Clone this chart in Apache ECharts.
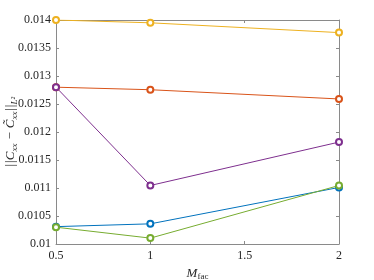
<!DOCTYPE html>
<html><head><meta charset="utf-8">
<script src="https://cdn.jsdelivr.net/npm/echarts@6/dist/echarts.min.js"></script>
<style>html,body{margin:0;padding:0;background:#fff}#c{width:374px;height:280px}</style>
</head><body><div id="c"></div>
<script>
const xValues = [0.5, 1, 2];
const yellowVals = [0.01400, 0.01395, 0.013775];
const orangeVals = [0.01280, 0.012755, 0.01259];
const purpleVals = [0.01280, 0.011045, 0.01182];
const blueVals = [0.01031, 0.01036, 0.01101];
const greenVals = [0.01030, 0.010105, 0.011045];
const yTicks = ['0.01','0.0105','0.011','0.0115','0.012','0.0125','0.013','0.0135','0.014'];
const xTicks = ['0.5','1','1.5','2'];

const font = 'Liberation Serif';
const axisCol = '#8a8a8a';
function mk(name, vals, color){
  return {name, type:'line', data: xValues.map((x,i)=>[x, vals[i]]),
    symbol:'emptyCircle', symbolSize:6, lineStyle:{width:1, color}, itemStyle:{color, borderWidth:0.9},
    animation:false};
}
const chart = echarts.init(document.getElementById('c'));
chart.setOption({
  animation:false,
  grid:{left:56, right:35, top:20, bottom:36, containLabel:false, outerBoundsMode:'none'},
  graphic:[{type:'text', x:11, y:132, rotation:Math.PI/2,
    style:{text:'{t|||C}{s|xx}{t| − C̃}{s|xx}{t|||}{s|L²}', align:'center', verticalAlign:'middle',
      rich:{t:{fontFamily:font, fontStyle:'italic', fontSize:13, fill:'#262626', verticalAlign:'middle'},
        s:{fontFamily:font, fontStyle:'italic', fontSize:9, fill:'#262626', padding:[8,0,0,0]}}}}],
  xAxis:[{type:'value', min:0.5, max:2, interval:0.5,
    axisLine:{lineStyle:{color:axisCol}}, axisTick:{inside:true, length:3, lineStyle:{color:axisCol}},
    splitLine:{show:false},
    axisLabel:{color:'#262626', fontFamily:font, fontSize:12, margin:6,
      formatter:v=>{const s=String(v); return xTicks.includes(s)?s:'';}},
    name:'{i|M}{s|fac}', nameLocation:'middle', nameGap:22,
    nameTextStyle:{rich:{i:{fontFamily:font, fontStyle:'italic', fontSize:13, color:'#262626'},
      s:{fontFamily:font, fontSize:9, color:'#262626', padding:[6,0,0,0]}}}},
   {type:'value', position:'top', min:0.5, max:2, interval:0.5,
    axisLine:{lineStyle:{color:axisCol}}, axisTick:{inside:true, length:3, lineStyle:{color:axisCol}},
    axisLabel:{show:false}, splitLine:{show:false}}],
  yAxis:[{type:'value', min:0.01, max:0.014, interval:0.0005,
    axisLine:{show:true, lineStyle:{color:axisCol}}, axisTick:{show:true, inside:true, length:3, lineStyle:{color:axisCol}},
    splitLine:{show:false},
    axisLabel:{color:'#262626', fontFamily:font, fontSize:12, margin:5,
      formatter:(v,i)=>yTicks[i]}},
   {type:'value', position:'right', min:0.01, max:0.014, interval:0.0005,
    axisLine:{show:true, lineStyle:{color:axisCol}}, axisTick:{show:true, inside:true, length:3, lineStyle:{color:axisCol}},
    axisLabel:{show:false}, splitLine:{show:false}}],
  series:[
    mk('yellow', yellowVals, '#EDB120'),
    mk('orange', orangeVals, '#D95319'),
    mk('purple', purpleVals, '#7E2F8E'),
    mk('blue', blueVals, '#0072BD'),
    mk('green', greenVals, '#77AC30')
  ]
});
</script></body></html>
